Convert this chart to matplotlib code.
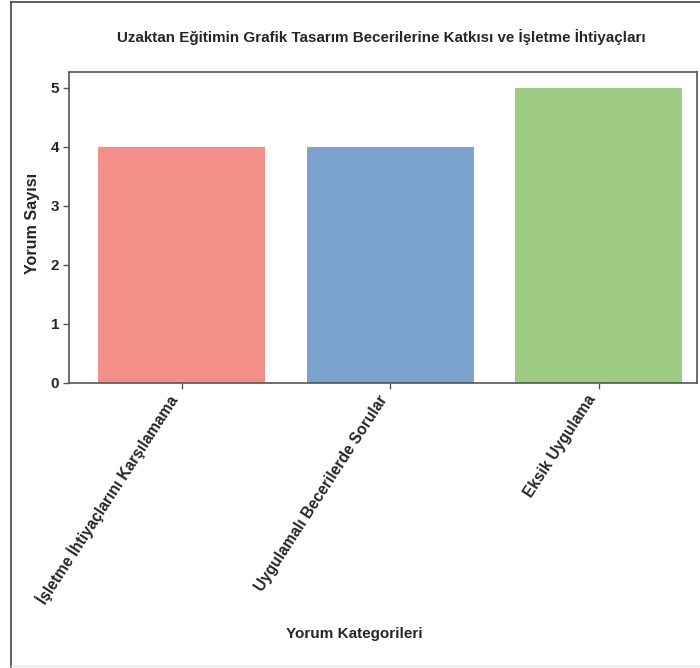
import matplotlib
matplotlib.use("Agg")
import matplotlib.pyplot as plt
from matplotlib.lines import Line2D

plt.rcParams['font.family'] = ['Liberation Sans', 'DejaVu Sans']

categories = ["İşletme İhtiyaçlarını Karşılamama", "Uygulamalı Becerilerde Sorular", "Eksik Uygulama"]
values = [4, 4, 5]
colors = ["#F28F89", "#7CA2CE", "#9ECB83"]
yticks = [0, 1, 2, 3, 4, 5]

W, H = 700, 668
fig = plt.figure(figsize=(7.0, 6.68), dpi=100)
ax = fig.add_axes([69 / W, 1 - 383 / H, (697 - 69) / W, (383 - 72) / H])

x = list(range(len(categories)))
ax.bar(x, values, width=0.8, color=colors, edgecolor='none')
ax.set_xlim(-0.54, 2.47)
ax.set_ylim(0, 5.27)
ax.set_xticks(x)
ax.set_xticklabels(categories, rotation=57, ha='right', fontsize=11.2, fontweight='bold', color='#262626')
ax.set_yticks(yticks)
ax.set_yticklabels([str(t) for t in yticks], fontsize=11, fontweight='bold', color='#262626')
for s in ax.spines.values():
    s.set_color('#555555')
    s.set_linewidth(1.2)
ax.tick_params(axis='both', length=4, width=1, color='#555555', pad=3)

fig.text(381 / W, 1 - 37 / H, "Uzaktan Eğitimin Grafik Tasarım Becerilerine Katkısı ve İşletme İhtiyaçları",
         ha='center', va='center', fontsize=10.9, fontweight='bold', color='#262626')
fig.text(32 / W, 1 - 223 / H, "Yorum Sayısı", rotation=90, ha='center', va='center',
         fontsize=11.6, fontweight='bold', color='#262626')
fig.text(354 / W, 1 - 634 / H, "Yorum Kategorileri", ha='center', va='center',
         fontsize=11, fontweight='bold', color='#262626')

# figure frame
fig.add_artist(Line2D([11 / W, 11 / W], [0, 1 - 2 / H], transform=fig.transFigure, color='#444444', lw=1.2))
fig.add_artist(Line2D([11 / W, 1], [1 - 2 / H, 1 - 2 / H], transform=fig.transFigure, color='#444444', lw=1.2))
fig.add_artist(Line2D([11 / W, 1], [1 - 666 / H, 1 - 666 / H], transform=fig.transFigure, color='#e6e6e6', lw=1))

fig.savefig("out.png", dpi=100)
